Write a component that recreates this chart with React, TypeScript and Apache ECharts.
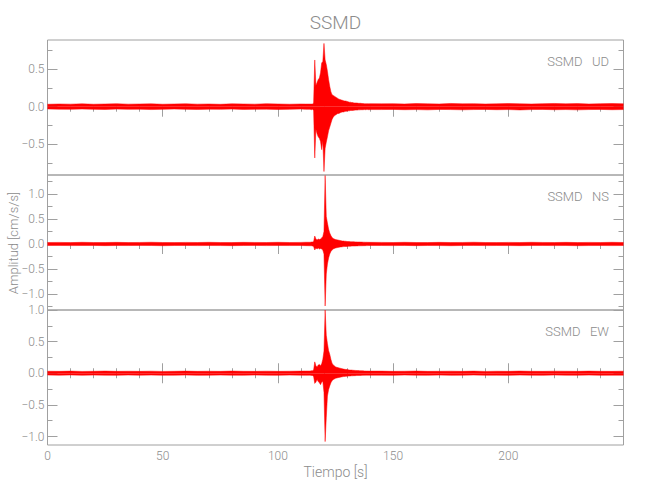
import React, { useEffect, useRef } from "react";
import * as echarts from "echarts";

// Time samples (s)
const TIME = [
  0, 5, 10, 15, 20, 25, 30, 35, 40, 45, 50, 55, 60, 65, 70, 75, 80, 85, 90, 95, 100, 105, 110,
  112,
  114, 114.5, 115, 115.5, 116, 116.5, 117, 117.5, 118, 118.5, 119, 119.5, 120, 120.5, 121, 121.5,
  122, 122.5, 123, 123.5, 124, 124.5, 125, 125.5, 126, 126.5, 127, 127.5, 128, 128.5, 129, 129.5,
  130, 130.5, 131, 131.5, 132, 132.5, 133, 133.5, 134, 134.5, 135, 135.5, 136, 136.5, 137, 137.5,
  138, 138.5, 139, 139.5, 140,
  145, 150, 155, 160, 165, 170, 175, 180, 185, 190, 195, 200, 205, 210, 215, 220, 225, 230, 235, 240, 245, 250,
];

// UD component: upper / lower envelope (cm/s/s)
const UD_UP = [
  0.032, 0.036, 0.034, 0.038, 0.033, 0.036, 0.04, 0.034, 0.036, 0.038, 0.033, 0.036, 0.039, 0.034, 0.036, 0.032, 0.038, 0.036, 0.034, 0.04, 0.036, 0.033, 0.036,
  0.035,
  0.035, 0.035, 0.035, 0.05, 0.62, 0.28, 0.32, 0.36, 0.38, 0.45, 0.58, 0.6, 0.84, 0.62, 0.56, 0.47,
  0.36, 0.27, 0.2, 0.16, 0.15, 0.14, 0.13, 0.12, 0.11, 0.1, 0.095, 0.09, 0.085, 0.08, 0.075, 0.075,
  0.07, 0.065, 0.06, 0.06, 0.055, 0.055, 0.05, 0.05, 0.05, 0.048, 0.045, 0.045, 0.045, 0.042, 0.042, 0.04,
  0.04, 0.04, 0.04, 0.038, 0.04,
  0.038, 0.04, 0.036, 0.042, 0.038, 0.036, 0.043, 0.038, 0.04, 0.036, 0.038, 0.042, 0.038, 0.036, 0.04, 0.043, 0.038, 0.041, 0.036, 0.04, 0.042, 0.038,
];
const UD_LO = [
  -0.03, -0.033, -0.035, -0.031, -0.035, -0.037, -0.032, -0.035, -0.033, -0.038, -0.035, -0.031, -0.035, -0.037, -0.033, -0.035, -0.032, -0.036, -0.035, -0.033, -0.037, -0.035, -0.031,
  -0.035,
  -0.035, -0.04, -0.035, -0.05, -0.68, -0.3, -0.36, -0.4, -0.42, -0.46, -0.57, -0.45, -0.86, -0.55, -0.47, -0.4,
  -0.32, -0.27, -0.22, -0.17, -0.14, -0.12, -0.11, -0.1, -0.09, -0.09, -0.08, -0.075, -0.07, -0.07, -0.065, -0.06,
  -0.06, -0.055, -0.055, -0.05, -0.05, -0.05, -0.048, -0.045, -0.045, -0.045, -0.042, -0.042, -0.04, -0.04, -0.04, -0.038,
  -0.04, -0.038, -0.038, -0.04, -0.038,
  -0.038, -0.036, -0.04, -0.038, -0.042, -0.036, -0.038, -0.041, -0.038, -0.036, -0.04, -0.038, -0.043, -0.038, -0.036, -0.04, -0.038, -0.042, -0.038, -0.036, -0.04, -0.038,
];

// NS component
const NS_UP = [
  0.03, 0.032, 0.028, 0.034, 0.03, 0.03, 0.033, 0.029, 0.031, 0.035, 0.03, 0.028, 0.032, 0.03, 0.034, 0.03, 0.029, 0.033, 0.031, 0.03, 0.034, 0.03, 0.032,
  0.035,
  0.035, 0.04, 0.04, 0.05, 0.16, 0.1, 0.08, 0.1, 0.09, 0.1, 0.12, 0.15, 0.25, 1.37, 0.55, 0.42,
  0.3, 0.22, 0.17, 0.13, 0.11, 0.1, 0.09, 0.085, 0.08, 0.075, 0.07, 0.065, 0.06, 0.06, 0.055, 0.055,
  0.05, 0.05, 0.048, 0.046, 0.045, 0.045, 0.044, 0.042, 0.042, 0.04, 0.04, 0.04, 0.038, 0.038, 0.036, 0.036,
  0.035, 0.035, 0.034, 0.034, 0.033,
  0.032, 0.03, 0.034, 0.03, 0.029, 0.033, 0.03, 0.031, 0.035, 0.03, 0.028, 0.032, 0.03, 0.034, 0.031, 0.03, 0.033, 0.029, 0.032, 0.03, 0.034, 0.03,
];
const NS_LO = [
  -0.03, -0.028, -0.032, -0.03, -0.029, -0.033, -0.03, -0.031, -0.028, -0.03, -0.034, -0.03, -0.029, -0.032, -0.03, -0.031, -0.033, -0.03, -0.028, -0.032, -0.03, -0.031, -0.03,
  -0.033,
  -0.035, -0.035, -0.04, -0.05, -0.12, -0.08, -0.1, -0.08, -0.1, -0.09, -0.1, -0.12, -0.2, -1.24, -0.6, -0.4,
  -0.28, -0.2, -0.15, -0.12, -0.1, -0.09, -0.08, -0.075, -0.07, -0.065, -0.06, -0.058, -0.055, -0.052, -0.05, -0.05,
  -0.048, -0.046, -0.045, -0.044, -0.042, -0.04, -0.04, -0.04, -0.038, -0.038, -0.036, -0.036, -0.035, -0.035, -0.034, -0.034,
  -0.033, -0.032, -0.032, -0.03, -0.03,
  -0.03, -0.032, -0.029, -0.033, -0.03, -0.031, -0.034, -0.03, -0.028, -0.032, -0.03, -0.031, -0.033, -0.03, -0.029, -0.032, -0.03, -0.034, -0.031, -0.03, -0.032, -0.03,
];

// EW component
const EW_UP = [
  0.032, 0.03, 0.034, 0.029, 0.031, 0.035, 0.03, 0.032, 0.03, 0.033, 0.029, 0.031, 0.034, 0.03, 0.032, 0.03, 0.035, 0.031, 0.03, 0.033, 0.03, 0.032, 0.034,
  0.035,
  0.035, 0.04, 0.04, 0.05, 0.18, 0.12, 0.1, 0.13, 0.14, 0.12, 0.15, 0.22, 0.35, 1.0, 0.6, 0.47,
  0.36, 0.3, 0.22, 0.16, 0.13, 0.12, 0.1, 0.095, 0.09, 0.085, 0.08, 0.075, 0.07, 0.066, 0.062, 0.06,
  0.058, 0.055, 0.052, 0.05, 0.05, 0.048, 0.046, 0.045, 0.044, 0.042, 0.042, 0.04, 0.04, 0.038, 0.038, 0.036,
  0.036, 0.035, 0.035, 0.034, 0.034,
  0.034, 0.03, 0.032, 0.035, 0.03, 0.031, 0.033, 0.03, 0.034, 0.029, 0.032, 0.03, 0.035, 0.031, 0.03, 0.033, 0.032, 0.03, 0.034, 0.031, 0.03, 0.033,
];
const EW_LO = [
  -0.028, -0.03, -0.027, -0.031, -0.029, -0.03, -0.032, -0.028, -0.03, -0.029, -0.031, -0.03, -0.028, -0.032, -0.03, -0.029, -0.03, -0.031, -0.028, -0.03, -0.032, -0.029, -0.03,
  -0.032,
  -0.03, -0.035, -0.035, -0.05, -0.16, -0.14, -0.1, -0.13, -0.15, -0.18, -0.14, -0.13, -0.3, -1.08, -0.7, -0.36,
  -0.26, -0.2, -0.15, -0.12, -0.1, -0.09, -0.08, -0.075, -0.07, -0.066, -0.062, -0.058, -0.055, -0.052, -0.05, -0.048,
  -0.046, -0.045, -0.044, -0.042, -0.04, -0.04, -0.038, -0.038, -0.036, -0.036, -0.035, -0.034, -0.034, -0.033, -0.032, -0.032,
  -0.031, -0.03, -0.03, -0.03, -0.03,
  -0.03, -0.032, -0.028, -0.03, -0.031, -0.029, -0.032, -0.03, -0.028, -0.031, -0.03, -0.033, -0.029, -0.03, -0.032, -0.028, -0.03, -0.031, -0.029, -0.032, -0.03, -0.03,
];

const UD_MAJOR = [-0.5, 0, 0.5];
const UD_MINOR = [-0.75, -0.25, 0.25, 0.75];
const NS_MAJOR = [-1, -0.5, 0, 0.5, 1];
const NS_MINOR = [-1.25, -0.75, -0.25, 0.25, 0.75, 1.25];
const EW_MAJOR = [-1, -0.5, 0, 0.5, 1];
const EW_MINOR = [-0.75, -0.25, 0.25, 0.75];

const TITLE = "SSMD";
const X_NAME = "Tiempo [s]";
const Y_NAME = "Amplitud [cm/s/s]";

const FONT = "Roboto, 'DejaVu Sans', sans-serif";
const AX = "#a0a0a0";
const TXT = "#8c8c8c";
const RED = "#ff0000";

export default function App() {
  const ref = useRef<HTMLDivElement>(null);
  useEffect(() => {
    if (!ref.current) return;
    const chart = echarts.init(ref.current, undefined, { renderer: "svg" });
    const panels = [
      { up: UD_UP, lo: UD_LO, min: -0.906, max: 0.885, major: UD_MAJOR, minor: UD_MINOR, label: "SSMD   UD", top: 40 },
      { up: NS_UP, lo: NS_LO, min: -1.32, max: 1.38, major: NS_MAJOR, minor: NS_MINOR, label: "SSMD   NS", top: 175 },
      { up: EW_UP, lo: EW_LO, min: -1.134, max: 1.0, major: EW_MAJOR, minor: EW_MINOR, label: "SSMD   EW", top: 310 },
    ];
    const LEFT = 47.5;
    const WIDTH = 576;
    const H = 135;
    const fmt = (v: number) => {
      const s = Math.abs(v).toFixed(1);
      return v < 0 ? "\u2212" + s : s;
    };
    const grids = panels.map((p) => ({
      left: LEFT, top: p.top, width: WIDTH, height: H,
      show: true, borderColor: AX, borderWidth: 1, backgroundColor: "transparent",
    }));
    const xAxes: any[] = panels.map((p, i) => ({
      type: "value", gridIndex: i, position: "top", min: 0, max: 250, interval: 50,
      axisLine: { show: false },
      axisTick: { show: true, inside: true, length: 10, lineStyle: { color: AX } },
      minorTick: { show: true, splitNumber: 5, length: 5, lineStyle: { color: AX } },
      axisLabel: { show: false },
      splitLine: { show: false },
    }));
    xAxes.push({
      type: "value", gridIndex: 2, position: "bottom", min: 0, max: 250, interval: 50,
      axisLine: { show: false },
      axisTick: { show: true, inside: true, length: 10, lineStyle: { color: AX } },
      minorTick: { show: true, splitNumber: 5, length: 5, lineStyle: { color: AX } },
      axisLabel: { show: true, margin: 5, color: TXT, fontSize: 12, fontWeight: 300, fontFamily: FONT, showMaxLabel: false },
      splitLine: { show: false },
    });
    const yAxes: any[] = [];
    panels.forEach((p, i) => {
      const base = { type: "value", gridIndex: i, min: p.min, max: p.max, axisLine: { show: false }, splitLine: { show: false } };
      yAxes.push({
        ...base, position: "left",
        axisTick: { show: true, inside: true, length: 10, customValues: p.major, lineStyle: { color: AX } },
        axisLabel: { show: true, customValues: p.major, formatter: fmt, margin: 3, color: TXT, fontSize: 12, fontWeight: 300, fontFamily: FONT },
      });
      yAxes.push({
        ...base, position: "left",
        axisTick: { show: true, inside: true, length: 5, customValues: p.minor, lineStyle: { color: AX } },
        axisLabel: { show: false },
      });
      yAxes.push({
        ...base, position: "right",
        axisTick: { show: true, inside: true, length: 10, customValues: p.major, lineStyle: { color: AX } },
        axisLabel: { show: false },
      });
      yAxes.push({
        ...base, position: "right",
        axisTick: { show: true, inside: true, length: 5, customValues: p.minor, lineStyle: { color: AX } },
        axisLabel: { show: false },
      });
    });
    const series: any[] = [];
    panels.forEach((p, i) => {
      [p.up, p.lo].forEach((arr) => {
        series.push({
          type: "line", xAxisIndex: i, yAxisIndex: i * 4,
          data: TIME.map((t, k) => [t, arr[k]]),
          symbol: "none", showSymbol: false, silent: true, clip: true,
          lineStyle: { color: RED, width: 0.5 },
          areaStyle: { color: RED, opacity: 1 },
        });
      });
    });
    const graphics: any[] = [
      { type: "text", x: LEFT + WIDTH / 2, y: 22, style: { text: TITLE, fill: TXT, fontSize: 19, fontWeight: 300, fontFamily: FONT, textAlign: "center", textVerticalAlign: "middle" } },
      { type: "text", x: LEFT + WIDTH / 2, y: 472, style: { text: X_NAME, fill: TXT, fontSize: 14, fontWeight: 300, fontFamily: FONT, textAlign: "center", textVerticalAlign: "middle" } },
      { type: "text", x: 13, y: 243, rotation: Math.PI / 2, style: { text: Y_NAME, fill: TXT, fontSize: 13, fontWeight: 300, fontFamily: FONT, textAlign: "center", textVerticalAlign: "middle" } },
      ...panels.map((p) => ({
        type: "text", x: 609, y: p.top + 21,
        style: { text: p.label, fill: TXT, fontSize: 13, fontWeight: 300, fontFamily: FONT, textAlign: "right", textVerticalAlign: "middle" },
      })),
    ];
    chart.setOption({
      animation: false,
      backgroundColor: "#ffffff",
      grid: grids,
      xAxis: xAxes,
      yAxis: yAxes,
      series,
      graphic: graphics,
    });
    return () => chart.dispose();
  }, []);
  return <div ref={ref} style={{ position: "absolute", left: 0, top: 0, width: 650, height: 500 }} />;
}
